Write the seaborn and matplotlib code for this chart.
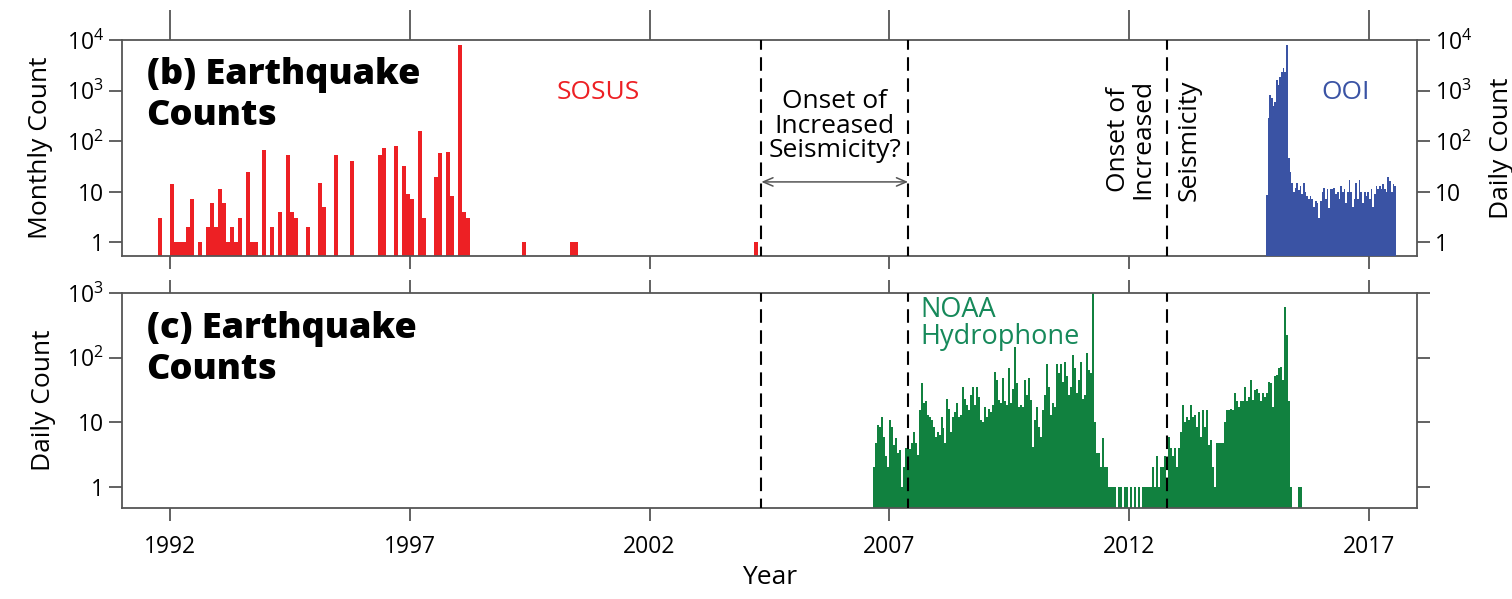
import numpy as np
import pandas as pd
import matplotlib
matplotlib.use("Agg")
import matplotlib.pyplot as plt
from matplotlib.ticker import NullLocator, FixedLocator
import seaborn as sns

# ---------------- data ----------------
# SOSUS monthly counts: month index counted from Jan 1992
sosus_month = [-3, 0, 1, 2, 3, 4, 5, 7, 9, 10, 11, 12, 13, 14, 15, 16, 17, 19, 20, 21,
               23, 25, 27, 29, 30, 31, 34, 37, 38, 41, 45, 52, 53, 56, 58, 59, 60,
               62, 63, 66, 67, 69, 70, 72, 73, 74, 88, 100, 101, 146]
sosus_count = [3, 14, 1, 1, 1, 2, 7, 1, 2, 6, 2, 11, 6, 1, 2, 1, 3, 24, 1, 1,
               66, 2, 4, 53, 4, 3, 2, 15, 5, 53, 40, 53, 72, 80, 32, 9, 7,
               160, 3, 19, 58, 60, 8, 8000, 4, 3, 1, 1, 1, 1]
sosus_first_month, sosus_last_month = -3, 147

# OOI daily counts (binned), Nov 2014 - Jul 2017
ooi_start, ooi_end = 2014.85, 2017.56
ooi_count = [8.5, 280, 800, 700, 500, 600, 1600, 1260, 1860, 2300, 2800, 2300, 8000,
             46, 24, 15, 10, 12, 15, 10.5, 13, 9, 15, 10, 8, 7, 8, 7, 5, 6.5, 6, 3,
             6.5, 10, 12, 7, 11, 4.8, 11, 11, 12, 9, 10, 7, 13, 10, 11, 6, 10, 17,
             10, 5, 7, 15, 7, 17, 10, 6, 10, 8, 10, 7, 11, 5, 9, 13, 11, 13, 11, 14,
             11, 10, 19, 16, 10, 14, 13]

# NOAA hydrophone daily counts (binned), mid 2006 - mid 2015
noaa_start, noaa_end = 2006.65, 2015.60
noaa_count = [2, 4.7, 9, 8.5, 12, 6, 3, 2, 11, 8.5, 4.5, 5.6, 3.3, 3.7, 1, 2, 4, 4,
              3.9, 4.7, 7, 4.7, 3.1, 15.5, 40, 20, 21, 13,
              12, 11, 8.5, 6, 7, 6.4, 12, 8, 4.7, 23,
              16, 7, 12, 14.6, 20, 12, 13, 35, 23, 18.5,
              15.5, 26, 35, 18.5, 35, 25, 11, 10, 17.5, 12,
              16, 14.6, 18.5, 60, 45, 22, 20, 48, 21, 18.5,
              68, 20, 33, 148, 40, 17.5, 18.5, 17.5, 45, 26,
              48, 22, 4.2, 11, 17.5, 8.5, 6, 15.5, 26, 81,
              35, 13, 20, 17.5, 81, 57, 81, 42, 86, 51,
              26, 35, 110, 68, 28, 45, 86, 23, 26, 117, 64, 57,
              1000, 10, 3.3, 3.3, 2, 5.6, 2, 2, 1, 1, 1, 1,
              0, 1, 1, 0, 1, 1, 0, 1, 0, 1, 0, 1, 0,
              1, 1, 1, 1, 1, 2, 1, 3, 1, 2, 2, 3, 1,
              6, 4, 3, 4, 2, 4, 7, 18.5, 10, 12, 11, 18.5, 12, 13, 8.5, 14.6, 6,
              15.5, 8.5, 15.5, 4.5, 5.3, 2, 1, 4.7, 4.7, 4.7, 4.7,
              10, 15.5, 15.5, 16, 15.5, 28, 21, 17.5, 21, 21, 35, 21, 25, 45, 22,
              31, 33, 28, 21, 28, 25, 28, 42, 40, 17.5, 51, 54, 68, 72, 45,
              610, 225, 21, 1, 0, 0, 0, 1, 1]

onset_lines = [2004.33, 2007.39, 2012.79]
year_ticks = [1992, 1997, 2002, 2007, 2012, 2017]
x_range = (1991.0, 2018.0)
count_ticks_b = [1, 10, 100, 1000, 10000]
count_ticks_c = [1, 10, 100, 1000]

# ---------------- style ----------------
sns.set_style("ticks")
plt.rcParams["font.family"] = ["Open Sans", "DejaVu Sans"]
plt.rcParams["mathtext.fontset"] = "custom"
plt.rcParams["mathtext.rm"] = "Open Sans"
plt.rcParams["mathtext.it"] = "Open Sans:italic"
plt.rcParams["mathtext.bf"] = "Open Sans:bold"
plt.rcParams["text.color"] = "black"
plt.rcParams["axes.labelcolor"] = "black"

RED = "#ED2024"
BLUE = "#3A53A4"
GREEN = "#11813F"
GREEN_TXT = "#16895A"
SPINE = "#555555"
TICK_FS = 16.5
LAB_FS = 19


def fmt(v):
    if v == 1:
        return "1"
    if v == 10:
        return "10"
    return r"$\mathregular{10^{%d}}$" % int(round(np.log10(v)))


def hist_bars(ax, start, end, values, color, lw=0.0, ec="none"):
    n = len(values)
    width = (end - start) / n
    centers = start + width * (np.arange(n) + 0.5)
    df = pd.DataFrame({"year": centers, "count": np.asarray(values, dtype=float)})
    sns.histplot(data=df, x="year", weights="count", bins=n, binrange=(start, end),
                 ax=ax, color=color, alpha=1.0, edgecolor=ec, linewidth=lw,
                 element="bars", fill=True, stat="count")


def style_axes(ax, ylim, yticks, labelleft=True):
    ax.set_yscale("log")
    ax.set_xlim(*x_range)
    ax.set_ylim(*ylim)
    ax.yaxis.set_major_locator(FixedLocator(yticks))
    ax.set_yticklabels([fmt(v) for v in yticks])
    ax.yaxis.set_minor_locator(NullLocator())
    ax.set_xticks(year_ticks)
    for s in ax.spines.values():
        s.set_visible(True)
        s.set_color(SPINE)
        s.set_linewidth(1.3)
    ax.tick_params(axis="both", direction="out", length=9.5, width=1.3,
                   color=SPINE, labelsize=TICK_FS, labelcolor="black")
    ax.tick_params(axis="x", top=True, bottom=True)
    ax.tick_params(axis="y", left=True, right=True, labelleft=labelleft)


W_PX, H_PX = 1512, 599
fig = plt.figure(figsize=(W_PX / 100, H_PX / 100), dpi=100)
L = 122 / W_PX
W = (1417 - 122) / W_PX
ax_b = fig.add_axes([L, 1 - 256 / H_PX, W, (256 - 40) / H_PX])
ax_c = fig.add_axes([L, 1 - 508 / H_PX, W, (508 - 293) / H_PX])

# ticks of panel above (cut off)
ax_a = fig.add_axes([L, 1 - 10 / H_PX, W, 0.2])
ax_a.set_xlim(*x_range)
ax_a.set_xticks(year_ticks)
ax_a.set_yticks([])
for s in ax_a.spines.values():
    s.set_visible(False)
ax_a.tick_params(axis="x", direction="out", length=12.0, width=1.3, color=SPINE,
                 labelbottom=False)
ax_a.patch.set_alpha(0)

# ---- panel b: SOSUS (monthly) ----
s_start = 1992 + sosus_first_month / 12.0
s_end = 1992 + (sosus_last_month + 1) / 12.0
n_months = sosus_last_month + 1 - sosus_first_month
sosus_centers = 1992 + (np.array(sosus_month) + 0.5) / 12.0
df_s = pd.DataFrame({"year": sosus_centers, "count": np.asarray(sosus_count, dtype=float)})
sns.histplot(data=df_s, x="year", weights="count", bins=n_months, binrange=(s_start, s_end),
             ax=ax_b, color=RED, alpha=1.0, edgecolor="none", linewidth=0,
             element="bars", fill=True, stat="count")
style_axes(ax_b, (0.53, 1e4), count_ticks_b)
ax_b.tick_params(axis="x", labelbottom=False)
ax_b.set_xlabel("")
ax_b.set_ylabel("Monthly Count", fontsize=LAB_FS, labelpad=10)

# OOI on right axis
ax_b2 = ax_b.twinx()
hist_bars(ax_b2, ooi_start, ooi_end, ooi_count, BLUE)
ax_b2.set_yscale("log")
ax_b2.set_ylim(0.53, 1e4)
ax_b2.yaxis.set_major_locator(FixedLocator(count_ticks_b))
ax_b2.set_yticklabels([fmt(v) for v in count_ticks_b])
ax_b2.yaxis.set_minor_locator(NullLocator())
ax_b2.tick_params(axis="y", direction="out", length=9.5, width=1.3, color=SPINE,
                  labelsize=TICK_FS, labelcolor="black", right=True, labelright=True)
for s in ax_b2.spines.values():
    s.set_visible(False)
ax_b2.set_ylabel("Daily Count", fontsize=LAB_FS, labelpad=12)
ax_b2.set_xlim(*x_range)

# ---- panel c: NOAA ----
hist_bars(ax_c, noaa_start, noaa_end, noaa_count, GREEN)
style_axes(ax_c, (0.47, 1000), count_ticks_c)
ax_c.set_xticklabels([str(y) for y in year_ticks])
ax_c.tick_params(axis="x", pad=10)
ax_c.set_xlabel("Year", fontsize=LAB_FS, labelpad=4)
ax_c.set_ylabel("Daily Count", fontsize=LAB_FS, labelpad=8)

# dashed onset lines
for ax in (ax_b, ax_c):
    for x in onset_lines:
        ax.axvline(x, color="black", lw=1.5, ls=(2, (6.5, 3.6)), zorder=5)

# arrow between first two lines
tb = ax_b.get_xaxis_transform()
ax_b.annotate("", xy=(onset_lines[0], 0.343), xytext=(onset_lines[1], 0.343),
              xycoords=tb, textcoords=tb,
              arrowprops=dict(arrowstyle="<->,head_length=0.7,head_width=0.3",
                              color="#555555", lw=1.1, shrinkA=0, shrinkB=0),
              zorder=6)

# annotations
ax_b.text(0.019, 0.92, "(b) Earthquake\nCounts", transform=ax_b.transAxes,
          fontsize=26, fontweight="heavy", va="top", ha="left", linespacing=1.18,
          color="black")
ax_c.text(0.019, 0.915, "(c) Earthquake\nCounts", transform=ax_c.transAxes,
          fontsize=26, fontweight="heavy", va="top", ha="left", linespacing=1.18,
          color="black")
ax_b.text(2000.92, 0.755, "SOSUS", transform=tb, color=RED, fontsize=19,
          ha="center", va="center")
ax_b.text(2016.52, 0.755, "OOI", transform=tb, color=BLUE, fontsize=19,
          ha="center", va="center")
ax_b.text(np.mean(onset_lines[:2]), 0.60, "Onset of\nIncreased\nSeismicity?",
          transform=tb, fontsize=19, ha="center", va="center", linespacing=0.97,
          zorder=7)
ax_b.text(2012.03, 0.54, "Onset of\nIncreased", transform=tb, fontsize=19,
          rotation=90, ha="center", va="center", linespacing=1.0)
ax_b.text(2013.25, 0.535, "Seismicity", transform=tb, fontsize=19,
          rotation=90, ha="center", va="center")
tc = ax_c.get_xaxis_transform()
ax_c.text(2007.65, 0.985, "NOAA\nHydrophone", transform=tc, color=GREEN_TXT,
          fontsize=19.5, ha="left", va="top", linespacing=0.95)

fig.savefig("out.png", dpi=100)
